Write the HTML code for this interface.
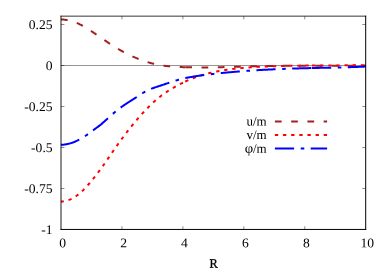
<!DOCTYPE html>
<html><head><meta charset="utf-8"><title>plot</title>
<style>
html,body{margin:0;padding:0;background:#fff;}
body{width:390px;height:273px;overflow:hidden;position:relative;font-family:"Liberation Serif",serif;}
</style></head><body>
<svg width="390" height="273" viewBox="0 0 390 273" style="display:block;position:absolute;left:0;top:0">
<rect width="390" height="273" fill="#fff"/>
<line x1="61.0" y1="65.5" x2="365.7" y2="65.5" stroke="#000" stroke-width="0.42"/>
<path d="M121.94,229.45 v-3.2 M121.94,16.15 v3.2 M182.88,229.45 v-3.2 M182.88,16.15 v3.2 M243.82,229.45 v-3.2 M243.82,16.15 v3.2 M304.76,229.45 v-3.2 M304.76,16.15 v3.2 M61.0,24.50 h3.4 M365.70,24.50 h-3.4 M61.0,65.50 h3.4 M365.70,65.50 h-3.4 M61.0,106.50 h3.4 M365.70,106.50 h-3.4 M61.0,147.50 h3.4 M365.70,147.50 h-3.4 M61.0,188.50 h3.4 M365.70,188.50 h-3.4" stroke="#000" stroke-width="0.45" fill="none"/>
<path d="M61.00,19.41 L61.62,19.44 L62.25,19.47 L62.87,19.52 L63.50,19.57 L64.12,19.64 L64.75,19.71 L65.37,19.80 L66.00,19.89 L66.62,19.99 L67.25,20.11 L67.87,20.23 L68.50,20.36 L69.12,20.50 L69.74,20.65 L70.37,20.81 L70.99,20.97 L71.62,21.15 L72.24,21.34 L72.87,21.54 L73.49,21.74 L74.12,21.96 L74.74,22.18 L75.37,22.41 L75.99,22.65 L76.62,22.91 L77.24,23.17 L77.86,23.43 L78.49,23.71 L79.11,24.00 L79.74,24.30 L80.36,24.60 L80.99,24.92 L81.61,25.24 L82.24,25.57 L82.86,25.91 L83.49,26.26 L84.11,26.62 L84.74,26.99 L85.36,27.36 L85.98,27.74 L86.61,28.13 L87.23,28.51 L87.86,28.91 L88.48,29.31 L89.11,29.71 L89.73,30.11 L90.36,30.52 L90.98,30.92 L91.61,31.33 L92.23,31.74 L92.86,32.15 L93.48,32.56 L94.11,32.97 L94.73,33.39 L95.35,33.81 L95.98,34.23 L96.60,34.65 L97.23,35.07 L97.85,35.50 L98.48,35.93 L99.10,36.36 L99.73,36.79 L100.35,37.22 L100.98,37.65 L101.60,38.09 L102.23,38.52 L102.85,38.95 L103.47,39.39 L104.10,39.82 L104.72,40.26 L105.35,40.69 L105.97,41.12 L106.60,41.55 L107.22,41.97 L107.85,42.40 L108.47,42.82 L109.10,43.24 L109.72,43.66 L110.35,44.07 L110.97,44.48 L111.59,44.89 L112.22,45.29 L112.84,45.69 L113.47,46.08 L114.09,46.48 L114.72,46.86 L115.34,47.25 L115.97,47.63 L116.59,48.01 L117.22,48.38 L117.84,48.76 L118.47,49.12 L119.09,49.49 L119.71,49.85 L120.34,50.20 L120.96,50.56 L121.59,50.91 L122.21,51.25 L122.84,51.60 L123.46,51.93 L124.09,52.27 L124.71,52.60 L125.34,52.93 L125.96,53.25 L126.59,53.57 L127.21,53.89 L127.83,54.20 L128.46,54.51 L129.08,54.82 L129.71,55.12 L130.33,55.42 L130.96,55.71 L131.58,56.00 L132.21,56.29 L132.83,56.57 L133.46,56.85 L134.08,57.13 L134.71,57.40 L135.33,57.67 L135.95,57.93 L136.58,58.19 L137.20,58.45 L137.83,58.70 L138.45,58.95 L139.08,59.19 L139.70,59.43 L140.33,59.67 L140.95,59.90 L141.58,60.13 L142.20,60.36 L142.83,60.58 L143.45,60.80 L144.07,61.01 L144.70,61.22 L145.32,61.43 L145.95,61.63 L146.57,61.82 L147.20,62.02 L147.82,62.21 L148.45,62.39 L149.07,62.58 L149.70,62.75 L150.32,62.93 L150.95,63.10 L151.57,63.26 L152.19,63.42 L152.82,63.58 L153.44,63.73 L154.07,63.88 L154.69,64.03 L155.32,64.17 L155.94,64.31 L156.57,64.44 L157.19,64.57 L157.82,64.70 L158.44,64.82 L159.07,64.94 L159.69,65.05 L160.32,65.16 L160.94,65.27 L161.56,65.37 L162.19,65.47 L162.81,65.57 L163.44,65.66 L164.06,65.74 L164.69,65.83 L165.31,65.91 L165.94,65.98 L166.56,66.06 L167.19,66.12 L167.81,66.19 L168.44,66.25 L169.06,66.31 L169.68,66.37 L170.31,66.43 L170.93,66.48 L171.56,66.53 L172.18,66.58 L172.81,66.62 L173.43,66.67 L174.06,66.71 L174.68,66.75 L175.31,66.78 L175.93,66.82 L176.56,66.85 L177.18,66.88 L177.80,66.92 L178.43,66.95 L179.05,66.97 L179.68,67.00 L180.30,67.03 L180.93,67.06 L181.55,67.08 L182.18,67.10 L182.80,67.13 L183.43,67.15 L184.05,67.17 L184.68,67.19 L185.30,67.21" fill="none" stroke="#a42020" stroke-width="2" stroke-dasharray="6.7 9.56" stroke-dashoffset="0"/>
<path d="M185.30,67.21 L186.21,67.24 L187.11,67.26 L188.02,67.28 L188.93,67.31 L189.83,67.33 L190.74,67.34 L191.65,67.36 L192.55,67.37 L193.46,67.39 L194.37,67.40 L195.27,67.41 L196.18,67.42 L197.08,67.42 L197.99,67.43 L198.90,67.43 L199.80,67.43 L200.71,67.43 L201.62,67.43 L202.52,67.43 L203.43,67.43 L204.34,67.43 L205.24,67.42 L206.15,67.41 L207.06,67.41 L207.96,67.40 L208.87,67.39 L209.78,67.38 L210.68,67.37 L211.59,67.35 L212.50,67.34 L213.40,67.33 L214.31,67.31 L215.22,67.29 L216.12,67.28 L217.03,67.26 L217.94,67.24 L218.84,67.22 L219.75,67.20 L220.65,67.18 L221.56,67.16 L222.47,67.14 L223.37,67.11 L224.28,67.09 L225.19,67.07 L226.09,67.04 L227.00,67.02 L227.91,66.99 L228.81,66.97 L229.72,66.94 L230.63,66.92 L231.53,66.89 L232.44,66.86 L233.35,66.84 L234.25,66.81 L235.16,66.78 L236.07,66.76 L236.97,66.73 L237.88,66.70 L238.79,66.68 L239.69,66.65 L240.60,66.62 L241.51,66.59 L242.41,66.57 L243.32,66.54 L244.22,66.51 L245.13,66.49 L246.04,66.46 L246.94,66.43 L247.85,66.41 L248.76,66.38 L249.66,66.36 L250.57,66.33 L251.48,66.31 L252.38,66.29 L253.29,66.26 L254.20,66.24 L255.10,66.22 L256.01,66.20 L256.92,66.17 L257.82,66.15 L258.73,66.13 L259.64,66.12 L260.54,66.10 L261.45,66.08 L262.36,66.06 L263.26,66.04 L264.17,66.03 L265.07,66.01 L265.98,66.00 L266.89,65.98 L267.79,65.97 L268.70,65.95 L269.61,65.94 L270.51,65.93 L271.42,65.91 L272.33,65.90 L273.23,65.89 L274.14,65.88 L275.05,65.87 L275.95,65.86 L276.86,65.85 L277.77,65.84 L278.67,65.83 L279.58,65.82 L280.49,65.82 L281.39,65.81 L282.30,65.80 L283.21,65.79 L284.11,65.79 L285.02,65.78 L285.93,65.77 L286.83,65.77 L287.74,65.76 L288.64,65.76 L289.55,65.75 L290.46,65.75 L291.36,65.75 L292.27,65.74 L293.18,65.74 L294.08,65.73 L294.99,65.73 L295.90,65.73 L296.80,65.73 L297.71,65.72 L298.62,65.72 L299.52,65.72 L300.43,65.72 L301.34,65.72 L302.24,65.71 L303.15,65.71 L304.06,65.71 L304.96,65.71 L305.87,65.71 L306.78,65.71 L307.68,65.71 L308.59,65.71 L309.49,65.71 L310.40,65.71 L311.31,65.71 L312.21,65.71 L313.12,65.71 L314.03,65.71 L314.93,65.71 L315.84,65.71 L316.75,65.71 L317.65,65.71 L318.56,65.71 L319.47,65.71 L320.37,65.71 L321.28,65.71 L322.19,65.71 L323.09,65.71 L324.00,65.71 L324.91,65.71 L325.81,65.71 L326.72,65.71 L327.63,65.71 L328.53,65.71 L329.44,65.71 L330.35,65.71 L331.25,65.70 L332.16,65.70 L333.06,65.70 L333.97,65.70 L334.88,65.70 L335.78,65.70 L336.69,65.70 L337.60,65.70 L338.50,65.69 L339.41,65.69 L340.32,65.69 L341.22,65.69 L342.13,65.68 L343.04,65.68 L343.94,65.68 L344.85,65.67 L345.76,65.67 L346.66,65.67 L347.57,65.66 L348.48,65.66 L349.38,65.65 L350.29,65.65 L351.20,65.64 L352.10,65.63 L353.01,65.63 L353.92,65.62 L354.82,65.62 L355.73,65.61 L356.63,65.60 L357.54,65.59 L358.45,65.58 L359.35,65.57 L360.26,65.57 L361.17,65.56 L362.07,65.55 L362.98,65.54 L363.89,65.52 L364.79,65.51 L365.70,65.50" fill="none" stroke="#a42020" stroke-width="2" stroke-dasharray="6.7 9.56" stroke-dashoffset="0"/>
<path d="M61.00,201.63 L61.62,201.57 L62.25,201.50 L62.87,201.42 L63.50,201.33 L64.12,201.22 L64.75,201.10 L65.37,200.96 L66.00,200.82 L66.62,200.65 L67.25,200.47 L67.87,200.28 L68.50,200.07 L69.12,199.84 L69.74,199.60 L70.37,199.34 L70.99,199.06 L71.62,198.76 L72.24,198.45 L72.87,198.11 L73.49,197.76 L74.12,197.39 L74.74,197.01 L75.37,196.61 L75.99,196.19 L76.62,195.75 L77.24,195.30 L77.86,194.83 L78.49,194.34 L79.11,193.84 L79.74,193.32 L80.36,192.79 L80.99,192.23 L81.61,191.67 L82.24,191.08 L82.86,190.48 L83.49,189.87 L84.11,189.24 L84.74,188.59 L85.36,187.94 L85.98,187.26 L86.61,186.58 L87.23,185.89 L87.86,185.18 L88.48,184.47 L89.11,183.75 L89.73,183.02 L90.36,182.28 L90.98,181.54 L91.61,180.78 L92.23,180.02 L92.86,179.25 L93.48,178.48 L94.11,177.70 L94.73,176.91 L95.35,176.11 L95.98,175.30 L96.60,174.49 L97.23,173.68 L97.85,172.85 L98.48,172.02 L99.10,171.18 L99.73,170.34 L100.35,169.48 L100.98,168.63 L101.60,167.76 L102.23,166.89 L102.85,166.01 L103.47,165.13 L104.10,164.24 L104.72,163.35 L105.35,162.45 L105.97,161.54 L106.60,160.63 L107.22,159.72 L107.85,158.81 L108.47,157.89 L109.10,156.97 L109.72,156.06 L110.35,155.14 L110.97,154.22 L111.59,153.31 L112.22,152.39 L112.84,151.48 L113.47,150.58 L114.09,149.67 L114.72,148.78 L115.34,147.88 L115.97,146.99 L116.59,146.10 L117.22,145.22 L117.84,144.34 L118.47,143.47 L119.09,142.60 L119.71,141.74 L120.34,140.88 L120.96,140.02 L121.59,139.17 L122.21,138.32 L122.84,137.48 L123.46,136.64 L124.09,135.80 L124.71,134.97 L125.34,134.15 L125.96,133.33 L126.59,132.51 L127.21,131.70 L127.83,130.89 L128.46,130.09 L129.08,129.29 L129.71,128.50 L130.33,127.71 L130.96,126.93 L131.58,126.15 L132.21,125.38 L132.83,124.61 L133.46,123.84 L134.08,123.09 L134.71,122.33 L135.33,121.58 L135.95,120.84 L136.58,120.10 L137.20,119.37 L137.83,118.64 L138.45,117.92 L139.08,117.20 L139.70,116.49 L140.33,115.78 L140.95,115.08 L141.58,114.39 L142.20,113.69 L142.83,113.01 L143.45,112.33 L144.07,111.66 L144.70,110.99 L145.32,110.32 L145.95,109.67 L146.57,109.02 L147.20,108.37 L147.82,107.73 L148.45,107.10 L149.07,106.48 L149.70,105.86 L150.32,105.24 L150.95,104.64 L151.57,104.04 L152.19,103.45 L152.82,102.86 L153.44,102.28 L154.07,101.71 L154.69,101.15 L155.32,100.59 L155.94,100.05 L156.57,99.51 L157.19,98.97 L157.82,98.45 L158.44,97.93 L159.07,97.42 L159.69,96.92 L160.32,96.43 L160.94,95.95 L161.56,95.48 L162.19,95.01 L162.81,94.55 L163.44,94.10 L164.06,93.66 L164.69,93.22 L165.31,92.79 L165.94,92.37 L166.56,91.96 L167.19,91.55 L167.81,91.14 L168.44,90.75 L169.06,90.36 L169.68,89.97 L170.31,89.59 L170.93,89.21 L171.56,88.84 L172.18,88.47 L172.81,88.11 L173.43,87.75 L174.06,87.39 L174.68,87.04 L175.31,86.69 L175.93,86.34 L176.56,86.00 L177.18,85.66 L177.80,85.33 L178.43,84.99 L179.05,84.66 L179.68,84.34 L180.30,84.01 L180.93,83.70 L181.55,83.38 L182.18,83.07 L182.80,82.76 L183.43,82.45 L184.05,82.15 L184.68,81.85 L185.30,81.56" fill="none" stroke="#ff0000" stroke-width="2" stroke-dasharray="3.3 4.84" stroke-dashoffset="0.45"/>
<path d="M185.30,81.56 L185.94,81.26 L186.57,80.97 L187.21,80.68 L187.85,80.40 L188.48,80.12 L189.12,79.84 L189.76,79.57 L190.39,79.30 L191.03,79.03 L191.67,78.77 L192.30,78.52 L192.94,78.26 L193.58,78.02 L194.21,77.77 L194.85,77.53 L195.49,77.30 L196.12,77.06 L196.76,76.84 L197.40,76.61 L198.03,76.39 L198.67,76.18 L199.31,75.97 L199.94,75.76 L200.58,75.56 L201.22,75.35 L201.85,75.16 L202.49,74.97 L203.13,74.78 L203.76,74.59 L204.40,74.41 L205.04,74.23 L205.67,74.05 L206.31,73.88 L206.95,73.71 L207.58,73.54 L208.22,73.38 L208.86,73.22 L209.49,73.07 L210.13,72.91 L210.77,72.76 L211.40,72.61 L212.04,72.47 L212.68,72.33 L213.31,72.19 L213.95,72.05 L214.59,71.92 L215.22,71.79 L215.86,71.66 L216.50,71.53 L217.13,71.41 L217.77,71.28 L218.41,71.17 L219.04,71.05 L219.68,70.93 L220.32,70.82 L220.95,70.71 L221.59,70.60 L222.23,70.50 L222.86,70.39 L223.50,70.29 L224.14,70.19 L224.77,70.09 L225.41,69.99 L226.05,69.90 L226.68,69.80 L227.32,69.71 L227.96,69.62 L228.59,69.53 L229.23,69.44 L229.87,69.36 L230.50,69.28 L231.14,69.19 L231.78,69.11 L232.41,69.03 L233.05,68.95 L233.69,68.88 L234.32,68.80 L234.96,68.73 L235.60,68.66 L236.23,68.59 L236.87,68.52 L237.51,68.45 L238.14,68.38 L238.78,68.32 L239.42,68.25 L240.05,68.19 L240.69,68.13 L241.33,68.07 L241.96,68.01 L242.60,67.95 L243.24,67.89 L243.87,67.84 L244.51,67.78 L245.15,67.73 L245.78,67.68 L246.42,67.62 L247.06,67.57 L247.69,67.53 L248.33,67.48 L248.97,67.43 L249.61,67.38 L250.24,67.34 L250.88,67.30 L251.52,67.25 L252.15,67.21 L252.79,67.17 L253.43,67.13 L254.06,67.09 L254.70,67.05 L255.34,67.01 L255.97,66.98 L256.61,66.94 L257.25,66.90 L257.88,66.87 L258.52,66.83 L259.16,66.80 L259.79,66.77 L260.43,66.74 L261.07,66.71 L261.70,66.67 L262.34,66.64 L262.98,66.62 L263.61,66.59 L264.25,66.56 L264.89,66.53 L265.52,66.50 L266.16,66.48 L266.80,66.45 L267.43,66.42 L268.07,66.40 L268.71,66.37 L269.34,66.35 L269.98,66.33 L270.62,66.30 L271.25,66.28 L271.89,66.26 L272.53,66.24 L273.16,66.21 L273.80,66.19 L274.44,66.17 L275.07,66.15 L275.71,66.13 L276.35,66.11 L276.98,66.09 L277.62,66.07 L278.26,66.06 L278.89,66.04 L279.53,66.02 L280.17,66.00 L280.80,65.99 L281.44,65.97 L282.08,65.95 L282.71,65.94 L283.35,65.92 L283.99,65.91 L284.62,65.89 L285.26,65.88 L285.90,65.87 L286.53,65.85 L287.17,65.84 L287.81,65.82 L288.44,65.81 L289.08,65.80 L289.72,65.79 L290.35,65.78 L290.99,65.76 L291.63,65.75 L292.26,65.74 L292.90,65.73 L293.54,65.72 L294.17,65.71 L294.81,65.70 L295.45,65.69 L296.08,65.68 L296.72,65.67 L297.36,65.66 L297.99,65.66 L298.63,65.65 L299.27,65.64 L299.90,65.63 L300.54,65.62 L301.18,65.62 L301.81,65.61 L302.45,65.60 L303.09,65.60 L303.72,65.59 L304.36,65.58 L305.00,65.58 L305.63,65.57 L306.27,65.56 L306.91,65.56 L307.54,65.55 L308.18,65.55 L308.82,65.54 L309.45,65.54 L310.09,65.53 L310.73,65.53 L311.36,65.52 L312.00,65.52" fill="none" stroke="#ff0000" stroke-width="2" stroke-dasharray="3.3 4.84" stroke-dashoffset="0"/>
<path d="M312.00,65.52 L312.27,65.52 L312.54,65.51 L312.81,65.51 L313.08,65.51 L313.35,65.51 L313.62,65.51 L313.89,65.50 L314.16,65.50 L314.43,65.50 L314.70,65.50 L314.97,65.50 L315.24,65.50 L315.51,65.49 L315.78,65.49 L316.05,65.49 L316.32,65.49 L316.59,65.49 L316.86,65.49 L317.13,65.49 L317.40,65.48 L317.67,65.48 L317.94,65.48 L318.21,65.48 L318.48,65.48 L318.75,65.48 L319.02,65.48 L319.29,65.47 L319.56,65.47 L319.83,65.47 L320.10,65.47 L320.37,65.47 L320.64,65.47 L320.91,65.47 L321.17,65.46 L321.44,65.46 L321.71,65.46 L321.98,65.46 L322.25,65.46 L322.52,65.46 L322.79,65.46 L323.06,65.45 L323.33,65.45 L323.60,65.45 L323.87,65.45 L324.14,65.45 L324.41,65.45 L324.68,65.45 L324.95,65.45 L325.22,65.45 L325.49,65.44 L325.76,65.44 L326.03,65.44 L326.30,65.44 L326.57,65.44 L326.84,65.44 L327.11,65.44 L327.38,65.44 L327.65,65.43 L327.92,65.43 L328.19,65.43 L328.46,65.43 L328.73,65.43 L329.00,65.43 L329.27,65.43 L329.54,65.43 L329.81,65.42 L330.08,65.42 L330.35,65.42 L330.62,65.42 L330.89,65.42 L331.16,65.42 L331.43,65.42 L331.70,65.42 L331.97,65.42 L332.24,65.41 L332.51,65.41 L332.78,65.41 L333.05,65.41 L333.32,65.41 L333.59,65.41 L333.86,65.41 L334.13,65.41 L334.40,65.40 L334.67,65.40 L334.94,65.40 L335.21,65.40 L335.48,65.40 L335.75,65.40 L336.02,65.40 L336.29,65.39 L336.56,65.39 L336.83,65.39 L337.10,65.39 L337.37,65.39 L337.64,65.39 L337.91,65.39 L338.18,65.39 L338.45,65.38 L338.72,65.38 L338.98,65.38 L339.25,65.38 L339.52,65.38 L339.79,65.38 L340.06,65.37 L340.33,65.37 L340.60,65.37 L340.87,65.37 L341.14,65.37 L341.41,65.37 L341.68,65.37 L341.95,65.36 L342.22,65.36 L342.49,65.36 L342.76,65.36 L343.03,65.36 L343.30,65.36 L343.57,65.35 L343.84,65.35 L344.11,65.35 L344.38,65.35 L344.65,65.35 L344.92,65.34 L345.19,65.34 L345.46,65.34 L345.73,65.34 L346.00,65.34 L346.27,65.33 L346.54,65.33 L346.81,65.33 L347.08,65.33 L347.35,65.33 L347.62,65.32 L347.89,65.32 L348.16,65.32 L348.43,65.32 L348.70,65.32 L348.97,65.31 L349.24,65.31 L349.51,65.31 L349.78,65.31 L350.05,65.30 L350.32,65.30 L350.59,65.30 L350.86,65.30 L351.13,65.29 L351.40,65.29 L351.67,65.29 L351.94,65.29 L352.21,65.28 L352.48,65.28 L352.75,65.28 L353.02,65.28 L353.29,65.27 L353.56,65.27 L353.83,65.27 L354.10,65.27 L354.37,65.26 L354.64,65.26 L354.91,65.26 L355.18,65.25 L355.45,65.25 L355.72,65.25 L355.99,65.24 L356.26,65.24 L356.53,65.24 L356.79,65.23 L357.06,65.23 L357.33,65.23 L357.60,65.22 L357.87,65.22 L358.14,65.22 L358.41,65.21 L358.68,65.21 L358.95,65.21 L359.22,65.20 L359.49,65.20 L359.76,65.20 L360.03,65.19 L360.30,65.19 L360.57,65.19 L360.84,65.18 L361.11,65.18 L361.38,65.17 L361.65,65.17 L361.92,65.17 L362.19,65.16 L362.46,65.16 L362.73,65.15 L363.00,65.15 L363.27,65.15 L363.54,65.14 L363.81,65.14 L364.08,65.13 L364.35,65.13 L364.62,65.12 L364.89,65.12 L365.16,65.11 L365.43,65.11 L365.70,65.10" fill="none" stroke="#ff0000" stroke-width="2" stroke-dasharray="3.3 4.84" stroke-dashoffset="0"/>
<path d="M61.00,144.75 L61.62,144.74 L62.25,144.72 L62.87,144.68 L63.50,144.63 L64.12,144.57 L64.75,144.49 L65.37,144.41 L66.00,144.31 L66.62,144.20 L67.25,144.07 L67.87,143.94 L68.50,143.79 L69.12,143.63 L69.74,143.47 L70.37,143.29 L70.99,143.09 L71.62,142.89 L72.24,142.68 L72.87,142.46 L73.49,142.22 L74.12,141.98 L74.74,141.72 L75.37,141.46 L75.99,141.18 L76.62,140.90 L77.24,140.60 L77.86,140.30 L78.49,139.98 L79.11,139.66 L79.74,139.33 L80.36,138.98 L80.99,138.63 L81.61,138.27 L82.24,137.90 L82.86,137.52 L83.49,137.14 L84.11,136.74 L84.74,136.34 L85.36,135.93 L85.98,135.51 L86.61,135.08 L87.23,134.64 L87.86,134.20 L88.48,133.75 L89.11,133.29 L89.73,132.82 L90.36,132.36 L90.98,131.89 L91.61,131.42 L92.23,130.95 L92.86,130.48 L93.48,130.02 L94.11,129.57 L94.73,129.11 L95.35,128.66 L95.98,128.21 L96.60,127.76 L97.23,127.30 L97.85,126.84 L98.48,126.37 L99.10,125.89 L99.73,125.41 L100.35,124.91 L100.98,124.41 L101.60,123.89 L102.23,123.36 L102.85,122.82 L103.47,122.28 L104.10,121.73 L104.72,121.17 L105.35,120.61 L105.97,120.05 L106.60,119.48 L107.22,118.91 L107.85,118.35 L108.47,117.78 L109.10,117.22 L109.72,116.66 L110.35,116.11 L110.97,115.55 L111.59,115.00 L112.22,114.46 L112.84,113.92 L113.47,113.38 L114.09,112.85 L114.72,112.32 L115.34,111.80 L115.97,111.28 L116.59,110.77 L117.22,110.26 L117.84,109.76 L118.47,109.27 L119.09,108.78 L119.71,108.30 L120.34,107.83 L120.96,107.37 L121.59,106.91 L122.21,106.46 L122.84,106.02 L123.46,105.58 L124.09,105.15 L124.71,104.73 L125.34,104.31 L125.96,103.89 L126.59,103.48 L127.21,103.07 L127.83,102.67 L128.46,102.27 L129.08,101.87 L129.71,101.47 L130.33,101.07 L130.96,100.68 L131.58,100.29 L132.21,99.89 L132.83,99.50 L133.46,99.10 L134.08,98.71 L134.71,98.31 L135.33,97.91 L135.95,97.50 L136.58,97.10 L137.20,96.69 L137.83,96.27 L138.45,95.86 L139.08,95.45 L139.70,95.03 L140.33,94.62 L140.95,94.21 L141.58,93.81 L142.20,93.41 L142.83,93.02 L143.45,92.64 L144.07,92.27 L144.70,91.91 L145.32,91.55 L145.95,91.22 L146.57,90.89 L147.20,90.58 L147.82,90.28 L148.45,89.98 L149.07,89.70 L149.70,89.43 L150.32,89.17 L150.95,88.92 L151.57,88.67 L152.19,88.43 L152.82,88.20 L153.44,87.97 L154.07,87.75 L154.69,87.54 L155.32,87.32 L155.94,87.11 L156.57,86.91 L157.19,86.70 L157.82,86.50 L158.44,86.29 L159.07,86.09 L159.69,85.89 L160.32,85.68 L160.94,85.47 L161.56,85.27 L162.19,85.06 L162.81,84.85 L163.44,84.64 L164.06,84.43 L164.69,84.21 L165.31,84.00 L165.94,83.79 L166.56,83.58 L167.19,83.37 L167.81,83.15 L168.44,82.94 L169.06,82.73 L169.68,82.53 L170.31,82.32 L170.93,82.11 L171.56,81.91 L172.18,81.70 L172.81,81.50 L173.43,81.30 L174.06,81.11 L174.68,80.91 L175.31,80.72 L175.93,80.53 L176.56,80.35 L177.18,80.17 L177.80,79.99 L178.43,79.81 L179.05,79.64 L179.68,79.47 L180.30,79.31 L180.93,79.15 L181.55,78.99 L182.18,78.84 L182.80,78.69 L183.43,78.54 L184.05,78.40 L184.68,78.26 L185.30,78.12" fill="none" stroke="#0000ff" stroke-width="2" stroke-dasharray="19.2 6.6 3.6 6.4" stroke-dashoffset="0"/>
<path d="M185.30,78.12 L185.94,77.98 L186.57,77.85 L187.21,77.72 L187.85,77.59 L188.48,77.47 L189.12,77.35 L189.76,77.23 L190.39,77.11 L191.03,77.00 L191.67,76.89 L192.30,76.78 L192.94,76.67 L193.58,76.56 L194.21,76.46 L194.85,76.36 L195.49,76.26 L196.12,76.16 L196.76,76.07 L197.40,75.97 L198.03,75.88 L198.67,75.79 L199.31,75.70 L199.94,75.61 L200.58,75.53 L201.22,75.44 L201.85,75.35 L202.49,75.27 L203.13,75.19 L203.76,75.11 L204.40,75.02 L205.04,74.94 L205.67,74.86 L206.31,74.78 L206.95,74.70 L207.58,74.63 L208.22,74.55 L208.86,74.47 L209.49,74.39 L210.13,74.32 L210.77,74.24 L211.40,74.17 L212.04,74.10 L212.68,74.02 L213.31,73.95 L213.95,73.88 L214.59,73.80 L215.22,73.73 L215.86,73.66 L216.50,73.59 L217.13,73.52 L217.77,73.46 L218.41,73.39 L219.04,73.32 L219.68,73.25 L220.32,73.19 L220.95,73.12 L221.59,73.06 L222.23,72.99 L222.86,72.93 L223.50,72.86 L224.14,72.80 L224.77,72.74 L225.41,72.68 L226.05,72.61 L226.68,72.55 L227.32,72.49 L227.96,72.43 L228.59,72.37 L229.23,72.32 L229.87,72.26 L230.50,72.20 L231.14,72.14 L231.78,72.09 L232.41,72.03 L233.05,71.97 L233.69,71.92 L234.32,71.86 L234.96,71.81 L235.60,71.76 L236.23,71.70 L236.87,71.65 L237.51,71.60 L238.14,71.55 L238.78,71.49 L239.42,71.44 L240.05,71.39 L240.69,71.34 L241.33,71.29 L241.96,71.24 L242.60,71.20 L243.24,71.15 L243.87,71.10 L244.51,71.05 L245.15,71.01 L245.78,70.96 L246.42,70.91 L247.06,70.87 L247.69,70.82 L248.33,70.78 L248.97,70.74 L249.61,70.69 L250.24,70.65 L250.88,70.61 L251.52,70.56 L252.15,70.52 L252.79,70.48 L253.43,70.44 L254.06,70.40 L254.70,70.36 L255.34,70.32 L255.97,70.28 L256.61,70.24 L257.25,70.20 L257.88,70.16 L258.52,70.12 L259.16,70.09 L259.79,70.05 L260.43,70.01 L261.07,69.97 L261.70,69.94 L262.34,69.90 L262.98,69.87 L263.61,69.83 L264.25,69.80 L264.89,69.76 L265.52,69.73 L266.16,69.70 L266.80,69.66 L267.43,69.63 L268.07,69.60 L268.71,69.56 L269.34,69.53 L269.98,69.50 L270.62,69.47 L271.25,69.44 L271.89,69.41 L272.53,69.38 L273.16,69.35 L273.80,69.32 L274.44,69.29 L275.07,69.26 L275.71,69.23 L276.35,69.20 L276.98,69.18 L277.62,69.15 L278.26,69.12 L278.89,69.09 L279.53,69.07 L280.17,69.04 L280.80,69.01 L281.44,68.99 L282.08,68.96 L282.71,68.94 L283.35,68.91 L283.99,68.89 L284.62,68.86 L285.26,68.84 L285.90,68.82 L286.53,68.79 L287.17,68.77 L287.81,68.75 L288.44,68.72 L289.08,68.70 L289.72,68.68 L290.35,68.66 L290.99,68.63 L291.63,68.61 L292.26,68.59 L292.90,68.57 L293.54,68.55 L294.17,68.53 L294.81,68.51 L295.45,68.49 L296.08,68.47 L296.72,68.45 L297.36,68.43 L297.99,68.41 L298.63,68.39 L299.27,68.37 L299.90,68.35 L300.54,68.33 L301.18,68.32 L301.81,68.30 L302.45,68.28 L303.09,68.26 L303.72,68.25 L304.36,68.23 L305.00,68.21 L305.63,68.20 L306.27,68.18 L306.91,68.16 L307.54,68.15 L308.18,68.13 L308.82,68.11 L309.45,68.10 L310.09,68.08 L310.73,68.07 L311.36,68.05 L312.00,68.04" fill="none" stroke="#0000ff" stroke-width="2" stroke-dasharray="19.2 6.6 3.6 6.4" stroke-dashoffset="0"/>
<path d="M312.00,68.04 L312.27,68.03 L312.54,68.03 L312.81,68.02 L313.08,68.01 L313.35,68.01 L313.62,68.00 L313.89,67.99 L314.16,67.99 L314.43,67.98 L314.70,67.98 L314.97,67.97 L315.24,67.96 L315.51,67.96 L315.78,67.95 L316.05,67.95 L316.32,67.94 L316.59,67.93 L316.86,67.93 L317.13,67.92 L317.40,67.92 L317.67,67.91 L317.94,67.91 L318.21,67.90 L318.48,67.89 L318.75,67.89 L319.02,67.88 L319.29,67.88 L319.56,67.87 L319.83,67.86 L320.10,67.86 L320.37,67.85 L320.64,67.85 L320.91,67.84 L321.17,67.84 L321.44,67.83 L321.71,67.82 L321.98,67.82 L322.25,67.81 L322.52,67.81 L322.79,67.80 L323.06,67.80 L323.33,67.79 L323.60,67.78 L323.87,67.78 L324.14,67.77 L324.41,67.77 L324.68,67.76 L324.95,67.76 L325.22,67.75 L325.49,67.75 L325.76,67.74 L326.03,67.73 L326.30,67.73 L326.57,67.72 L326.84,67.72 L327.11,67.71 L327.38,67.71 L327.65,67.70 L327.92,67.69 L328.19,67.69 L328.46,67.68 L328.73,67.68 L329.00,67.67 L329.27,67.67 L329.54,67.66 L329.81,67.65 L330.08,67.65 L330.35,67.64 L330.62,67.64 L330.89,67.63 L331.16,67.63 L331.43,67.62 L331.70,67.61 L331.97,67.61 L332.24,67.60 L332.51,67.60 L332.78,67.59 L333.05,67.58 L333.32,67.58 L333.59,67.57 L333.86,67.57 L334.13,67.56 L334.40,67.55 L334.67,67.55 L334.94,67.54 L335.21,67.54 L335.48,67.53 L335.75,67.52 L336.02,67.52 L336.29,67.51 L336.56,67.51 L336.83,67.50 L337.10,67.49 L337.37,67.49 L337.64,67.48 L337.91,67.47 L338.18,67.47 L338.45,67.46 L338.72,67.45 L338.98,67.45 L339.25,67.44 L339.52,67.44 L339.79,67.43 L340.06,67.42 L340.33,67.42 L340.60,67.41 L340.87,67.40 L341.14,67.40 L341.41,67.39 L341.68,67.38 L341.95,67.38 L342.22,67.37 L342.49,67.36 L342.76,67.35 L343.03,67.35 L343.30,67.34 L343.57,67.33 L343.84,67.33 L344.11,67.32 L344.38,67.31 L344.65,67.30 L344.92,67.30 L345.19,67.29 L345.46,67.28 L345.73,67.28 L346.00,67.27 L346.27,67.26 L346.54,67.25 L346.81,67.25 L347.08,67.24 L347.35,67.23 L347.62,67.22 L347.89,67.21 L348.16,67.21 L348.43,67.20 L348.70,67.19 L348.97,67.18 L349.24,67.17 L349.51,67.17 L349.78,67.16 L350.05,67.15 L350.32,67.14 L350.59,67.13 L350.86,67.13 L351.13,67.12 L351.40,67.11 L351.67,67.10 L351.94,67.09 L352.21,67.08 L352.48,67.07 L352.75,67.06 L353.02,67.06 L353.29,67.05 L353.56,67.04 L353.83,67.03 L354.10,67.02 L354.37,67.01 L354.64,67.00 L354.91,66.99 L355.18,66.98 L355.45,66.97 L355.72,66.96 L355.99,66.95 L356.26,66.94 L356.53,66.93 L356.79,66.93 L357.06,66.92 L357.33,66.91 L357.60,66.90 L357.87,66.89 L358.14,66.88 L358.41,66.86 L358.68,66.85 L358.95,66.84 L359.22,66.83 L359.49,66.82 L359.76,66.81 L360.03,66.80 L360.30,66.79 L360.57,66.78 L360.84,66.77 L361.11,66.76 L361.38,66.75 L361.65,66.74 L361.92,66.73 L362.19,66.71 L362.46,66.70 L362.73,66.69 L363.00,66.68 L363.27,66.67 L363.54,66.66 L363.81,66.64 L364.08,66.63 L364.35,66.62 L364.62,66.61 L364.89,66.60 L365.16,66.58 L365.43,66.57 L365.70,66.56" fill="none" stroke="#0000ff" stroke-width="2" stroke-dasharray="19.2 6.6 3.6 6.4" stroke-dashoffset="0"/>
<path d="M274.9,121.4 H327.1" stroke="#a42020" stroke-width="2" stroke-dasharray="6.7 9.56" fill="none"/>
<path d="M274.9,135.0 H327.1" stroke="#ff0000" stroke-width="2" stroke-dasharray="3.3 4.84" fill="none"/>
<path d="M274.9,148.6 H327.1" stroke="#0000ff" stroke-width="2" stroke-dasharray="19.2 6.6 3.6 6.4" fill="none"/>
<path d="M61.0,15.749999999999998 V229.95" stroke="#000" stroke-width="0.9" fill="none"/>
<path d="M60.55,16.15 H366.20" stroke="#000" stroke-width="0.8" fill="none"/>
<path d="M365.70,15.749999999999998 V229.95" stroke="#000" stroke-width="1" fill="none"/>
<path d="M60.55,229.45 H366.20" stroke="#000" stroke-width="1" fill="none"/>
</svg>
<svg width="390" height="273" viewBox="0 0 390 273" style="display:block;position:absolute;left:0;top:0;will-change:transform;filter:grayscale(1)">
<g font-family="'Liberation Serif', serif" fill="#000" text-rendering="geometricPrecision">
<text transform="translate(52.60 29.00) rotate(0.03) scale(1.03 1)" x="0" y="0" text-anchor="end" font-size="13.2">0.25</text>
<text transform="translate(52.60 70.00) rotate(0.03) scale(1.03 1)" x="0" y="0" text-anchor="end" font-size="13.2">0</text>
<text transform="translate(52.60 111.00) rotate(0.03) scale(1.03 1)" x="0" y="0" text-anchor="end" font-size="13.2">-0.25</text>
<text transform="translate(52.60 152.00) rotate(0.03) scale(1.03 1)" x="0" y="0" text-anchor="end" font-size="13.2">-0.5</text>
<text transform="translate(52.60 193.00) rotate(0.03) scale(1.03 1)" x="0" y="0" text-anchor="end" font-size="13.2">-0.75</text>
<text transform="translate(52.60 234.00) rotate(0.03) scale(1.03 1)" x="0" y="0" text-anchor="end" font-size="13.2">-1</text>
<text transform="translate(62.60 247.25) rotate(0.03) scale(1.03 1)" x="0" y="0" text-anchor="middle" font-size="13.2">0</text>
<text transform="translate(123.54 247.25) rotate(0.03) scale(1.03 1)" x="0" y="0" text-anchor="middle" font-size="13.2">2</text>
<text transform="translate(184.48 247.25) rotate(0.03) scale(1.03 1)" x="0" y="0" text-anchor="middle" font-size="13.2">4</text>
<text transform="translate(245.42 247.25) rotate(0.03) scale(1.03 1)" x="0" y="0" text-anchor="middle" font-size="13.2">6</text>
<text transform="translate(306.36 247.25) rotate(0.03) scale(1.03 1)" x="0" y="0" text-anchor="middle" font-size="13.2">8</text>
<text transform="translate(367.30 247.25) rotate(0.03) scale(1.03 1)" x="0" y="0" text-anchor="middle" font-size="13.2">10</text>
<text transform="translate(213.70 267.70) rotate(0.03) scale(0.95 1)" x="0" y="0" text-anchor="middle" font-size="13.0" stroke="#000" stroke-width="0.3">R</text>
<text transform="translate(266.70 125.50) rotate(0.03) scale(1.0 1)" x="0" y="0" text-anchor="end" font-size="13.0">u/m</text>
<text transform="translate(266.70 139.10) rotate(0.03) scale(1.0 1)" x="0" y="0" text-anchor="end" font-size="13.0">v/m</text>
<text transform="translate(253.07 152.70) rotate(0.03) scale(1.04 1)" x="0" y="0" text-anchor="end" font-size="14.0">φ</text>
<text transform="translate(266.70 152.70) rotate(0.03) scale(1.0 1)" x="0" y="0" text-anchor="end" font-size="13.0">/m</text>
</g>
</svg>
</body></html>
